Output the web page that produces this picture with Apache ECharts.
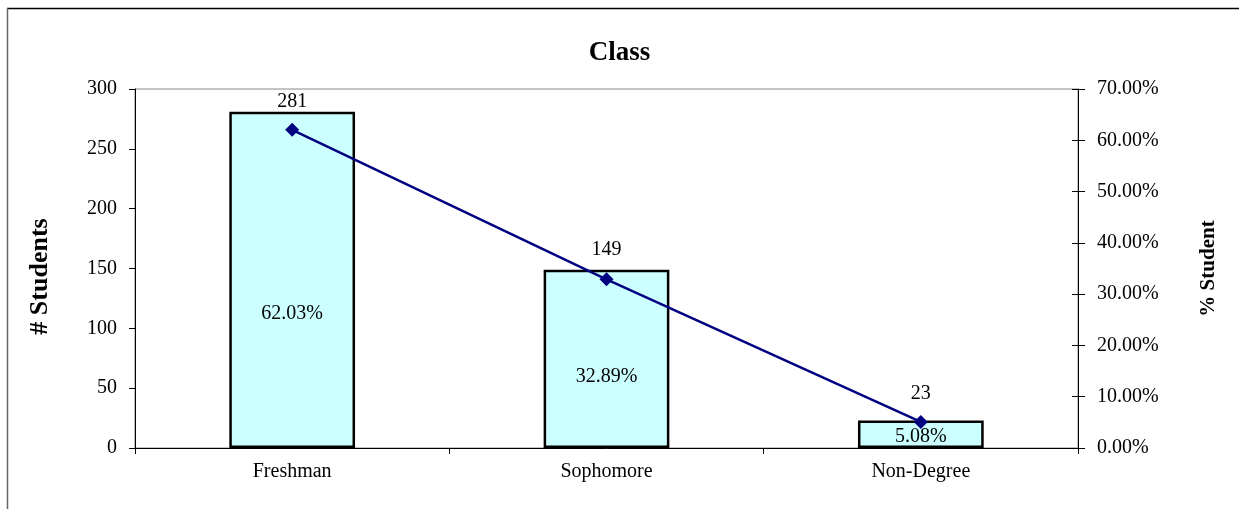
<!DOCTYPE html>
<html>
<head>
<meta charset="utf-8">
<script src="https://cdn.jsdelivr.net/npm/echarts@6/dist/echarts.min.js"></script>
<style>html,body{margin:0;padding:0;background:#fff;}#c{width:1239px;height:509px;}</style>
</head>
<body>
<div id="c"></div>
<script>
var categories = ['Freshman', 'Sophomore', 'Non-Degree'];
var students = [281, 149, 23];
var percents = [62.03, 32.89, 5.08];
var leftTicks = {min: 0, max: 300, interval: 50};
var rightTicks = {min: 0, max: 70, interval: 10};
var topLabelDistance = [0, 10, 17];

var FONT = 'Liberation Serif';
var chart = echarts.init(document.getElementById('c'));
chart.setOption({
  backgroundColor: '#fff',
  animation: false,
  textStyle: {fontFamily: FONT},
  title: {
    text: 'Class', left: 'center', top: 35,
    textStyle: {fontFamily: FONT, fontSize: 27, fontWeight: 'bold', color: '#000'}
  },
  graphic: [
    {type: 'line', shape: {x1: 7, y1: 8.5, x2: 1239, y2: 8.5}, style: {stroke: '#000', lineWidth: 1.5}},
    {type: 'line', shape: {x1: 7.5, y1: 8, x2: 7.5, y2: 509}, style: {stroke: '#666', lineWidth: 1.5}}
  ],
  grid: {left: 135, right: 161, top: 89, bottom: 61, show: true, borderColor: '#888', borderWidth: 1, backgroundColor: 'transparent'},
  xAxis: {
    type: 'category', data: categories,
    axisLine: {lineStyle: {color: '#000', width: 1}},
    axisTick: {show: true, length: 6, lineStyle: {color: '#000'}},
    axisLabel: {fontFamily: FONT, fontSize: 20, color: '#000', margin: 14},
    splitLine: {show: false}
  },
  yAxis: [
    {
      type: 'value', position: 'left', min: leftTicks.min, max: leftTicks.max, interval: leftTicks.interval,
      name: '# Students', nameLocation: 'middle', nameGap: 82, nameRotate: 90,
      nameTextStyle: {fontFamily: FONT, fontSize: 26, fontWeight: 'bold', color: '#000', padding: [0, 16, 0, 0]},
      axisLine: {show: true, lineStyle: {color: '#000', width: 1}},
      axisTick: {show: true, length: 6, lineStyle: {color: '#000'}},
      axisLabel: {fontFamily: FONT, fontSize: 20, color: '#000', margin: 18},
      splitLine: {show: false}
    },
    {
      type: 'value', position: 'right', min: rightTicks.min, max: rightTicks.max, interval: rightTicks.interval,
      name: '% Student', nameLocation: 'middle', nameGap: 120, nameRotate: 90,
      nameTextStyle: {fontFamily: FONT, fontSize: 21, fontWeight: 'bold', color: '#000'},
      axisLine: {show: true, lineStyle: {color: '#000', width: 1}},
      axisTick: {show: true, length: 7, lineStyle: {color: '#000'}},
      axisLabel: {fontFamily: FONT, fontSize: 20, color: '#000', margin: 19,
        formatter: function (v) { return v.toFixed(2) + '%'; }},
      splitLine: {show: false}
    },
    {
      type: 'value', position: 'right', min: rightTicks.min, max: rightTicks.max, interval: rightTicks.interval,
      axisLine: {show: false},
      axisTick: {show: true, inside: true, length: 6, lineStyle: {color: '#000'}},
      axisLabel: {show: false},
      splitLine: {show: false}
    }
  ],
  series: [
    {
      type: 'bar', yAxisIndex: 0, barCategoryGap: '60%', z: 2,
      data: students.map(function (v, i) {
        return {value: v, label: {distance: topLabelDistance[i]}};
      }),
      itemStyle: {color: '#CCFFFF', borderColor: '#000', borderWidth: 2.5},
      label: {show: true, position: 'top', fontFamily: FONT, fontSize: 20, color: '#000'}
    },
    {
      type: 'bar', yAxisIndex: 0, barCategoryGap: '60%', barGap: '-100%', z: 3,
      data: students,
      itemStyle: {color: 'transparent', borderWidth: 0},
      label: {show: true, position: ['50%', '60%'], align: 'center', verticalAlign: 'middle',
        fontFamily: FONT, fontSize: 20, color: '#000',
        formatter: function (p) { return percents[p.dataIndex].toFixed(2) + '%'; }},
      tooltip: {show: false}
    },
    {
      type: 'line', yAxisIndex: 1, data: percents, z: 5,
      symbol: 'diamond', symbolSize: 14,
      lineStyle: {color: '#000080', width: 2.5},
      itemStyle: {color: '#000080'}
    }
  ]
});
</script>
</body>
</html>
